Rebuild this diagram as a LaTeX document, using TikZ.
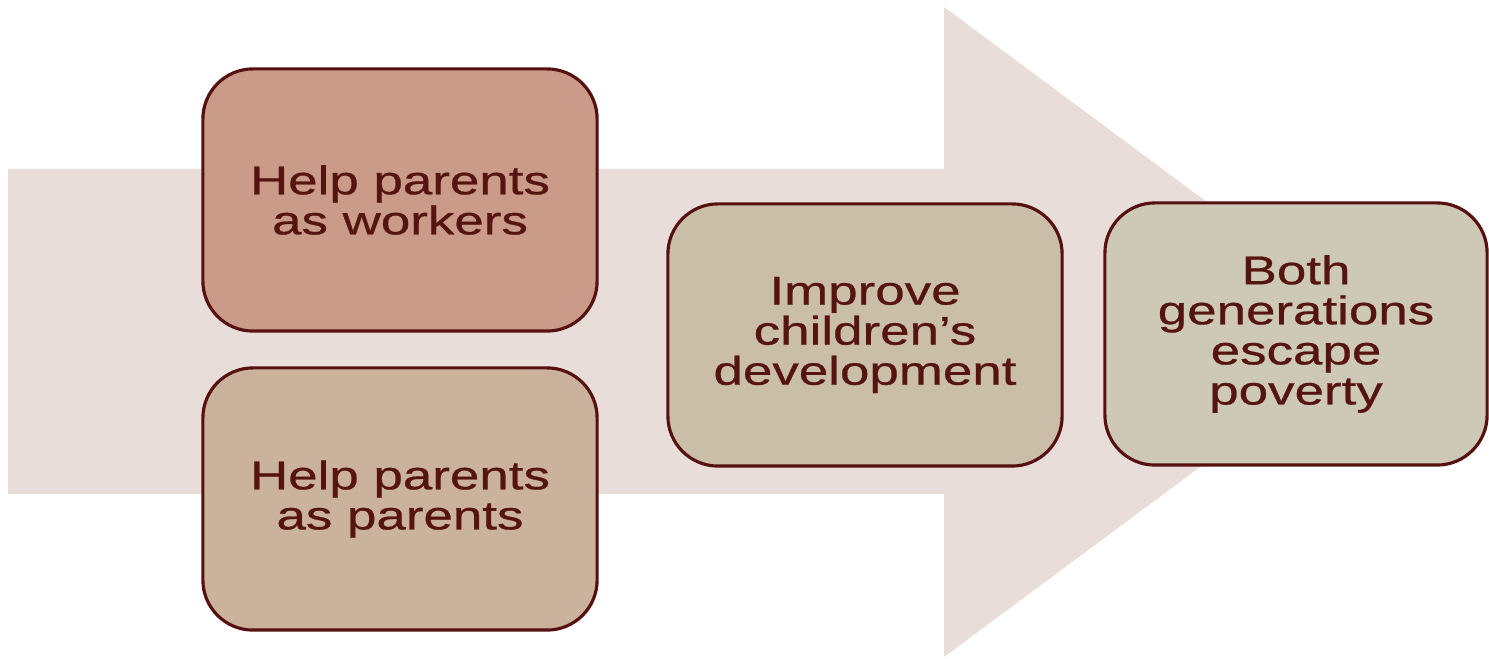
\documentclass[tikz,border=0pt]{standalone}
\usepackage{fontspec}
\setmainfont{Liberation Sans}[FakeStretch=1.32, FakeBold=0.6]
\usepackage{tikz}
\usetikzlibrary{positioning}

\definecolor{arrowfill}{HTML}{E9DDD9}
\definecolor{edgecol}{HTML}{561010}
\definecolor{textcol}{HTML}{55140F}
\definecolor{workfill}{HTML}{C99B88}
\definecolor{parentfill}{HTML}{CBB29C}
\definecolor{childfill}{HTML}{CBBEA9}
\definecolor{povfill}{HTML}{CEC9B6}

\begin{document}
\begin{tikzpicture}[x=0.01cm, y=-0.01cm,
    stage/.style={draw=edgecol, line width=0.9pt, rounded corners=0.5cm,
        minimum width=3.94cm, minimum height=2.62cm, inner sep=0pt,
        align=center, text=textcol,
        font=\fontsize{11.4}{11.4}\selectfont}]
    \useasboundingbox (0, 0) rectangle (1489, 659);

    \fill[arrowfill] (8, 169) -- (944, 169) -- (944, 7) -- (1382, 332)
        -- (944, 657) -- (944, 494) -- (8, 494) -- cycle;

    \node[stage, fill=workfill] (workers) at (400, 200) {Help parents\\as workers};
    \node[stage, fill=parentfill] (parents) at (400, 499) {Help parents\\as parents};
    \node[stage, fill=childfill] (children) at (865, 335) {Improve\\children’s\\development};
    \node[stage, fill=povfill, minimum width=3.82cm] (poverty) at (1296, 334) {Both\\generations\\escape\\poverty};
\end{tikzpicture}
\end{document}
